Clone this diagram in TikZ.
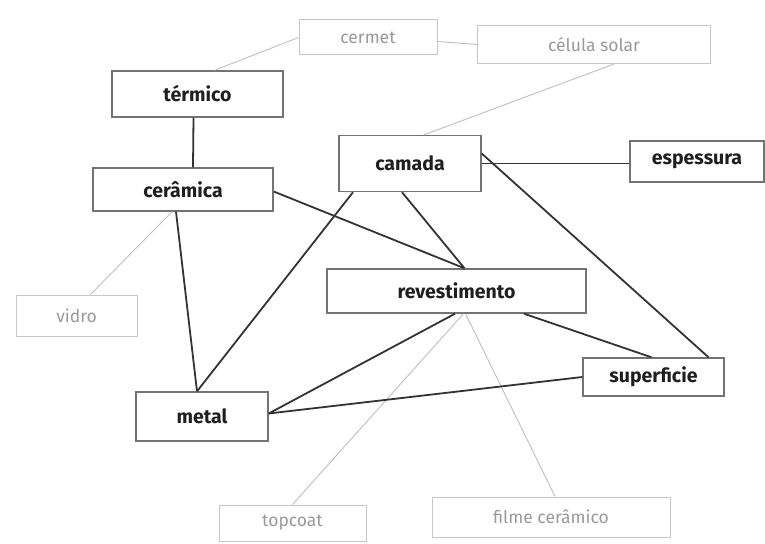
\documentclass[tikz,border=0pt]{standalone}
\usepackage{fontspec}
\setmainfont{Fira Sans}
\begin{document}
\begin{tikzpicture}[x=1pt,y=-1pt,
  mainbox/.style={draw=black!55,line width=1.4pt,fill=white,inner sep=0pt,font=\fontsize{19.5}{22}\selectfont\bfseries,text=black!88},
  lightbox/.style={draw=black!22,line width=1pt,fill=white,inner sep=0pt,font=\fontsize{17.5}{20}\selectfont,text=black!40},
  strong/.style={draw=black!80,line width=1.8pt},
  weak/.style={draw=black!25,line width=0.9pt}]
\useasboundingbox[fill=white] (0,0) rectangle (765,543);
% nodes
\node[mainbox,minimum width=171,minimum height=46] (termico) at (197.5,94) {térmico};
\node[lightbox,minimum width=138,minimum height=35] (cermet) at (368,37.5) {cermet};
\node[lightbox,minimum width=233,minimum height=38] (celula) at (594,44.5) {célula solar};
\node[mainbox,minimum width=180,minimum height=43] (ceramica) at (183,189.5) {cerâmica};
\node[mainbox,minimum width=142,minimum height=56] (camada) at (410,163.5) {camada};
\node[mainbox,minimum width=134,minimum height=41] (espessura) at (697,161.5) {espessura};
\node[lightbox,minimum width=121,minimum height=41] (vidro) at (76.5,316) {vidro};
\node[mainbox,minimum width=259,minimum height=44] (revest) at (456.5,291) {revestimento};
\node[mainbox,minimum width=141,minimum height=38] (superf) at (653.5,377) {superficie};
\node[mainbox,minimum width=132,minimum height=49] (metal) at (202,416.5) {metal};
\node[lightbox,minimum width=147,minimum height=36] (topcoat) at (292.5,523) {topcoat};
\node[lightbox,minimum width=238,minimum height=40] (filme) at (551,517) {filme cerâmico};
% weak edges
\draw[weak] (cermet.west) -- ([xshift=17]termico.north);
\draw[weak] ([yshift=-4]cermet.east) -- (celula.west);
\draw[weak] ([xshift=20]celula.south) -- ([xshift=14]camada.north);
\draw[weak] ([xshift=-11]ceramica.south) -- ([xshift=13.5]vidro.north);
\draw[weak] ([xshift=7]revest.south) -- (topcoat.north);
\draw[weak] ([xshift=9]revest.south) -- ([xshift=4]filme.north);
% strong edges
\draw[strong] ([xshift=-4]termico.south) -- ([xshift=10]ceramica.north);
\draw[strong] ([xshift=-7]ceramica.south) -- ([xshift=-5]metal.north);
\draw[strong] ([xshift=-57]camada.south) -- ([xshift=-5]metal.north);
\draw[strong] ([yshift=-2]ceramica.east) -- ([xshift=8]revest.north);
\draw[strong] ([xshift=-8]camada.south) -- ([xshift=8]revest.north);
\draw[strong] (camada.east) -- (camada.east -| espessura.west);
\draw[strong] ([yshift=10]camada.east) -- ([xshift=55]superf.north);
\draw[strong] ([xshift=67.5]revest.south) -- ([xshift=-2]superf.north);
\draw[strong] ([xshift=-1.5]revest.south) -- ([yshift=3]metal.east);
\draw[strong] (superf.west) -- ([yshift=3]metal.east);
\end{tikzpicture}
\end{document}
